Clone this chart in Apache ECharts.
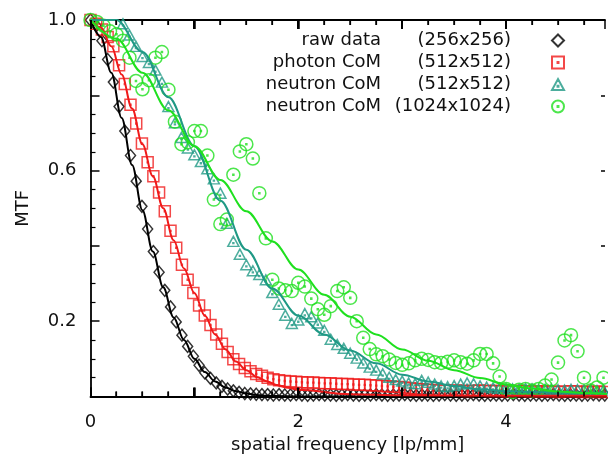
<!DOCTYPE html>
<html>
<head>
<meta charset="utf-8">
<script src="https://cdn.jsdelivr.net/npm/echarts@6/dist/echarts.min.js"></script>
<style>html,body{margin:0;padding:0;background:#fff}#c{width:608px;height:460px}</style>
</head>
<body>
<div id="c"></div>
<script>
// ---- data ----
const legendLabels = ['raw data', 'photon CoM', 'neutron CoM', 'neutron CoM'];
const legendSizes = ['(256x256)', '(512x512)', '(512x512)', '(1024x1024)'];
const xTickLabels = [0, 2, 4];
const yTickLabels = [0.2, 0.6, 1.0];
const xMajorTicks = [0, 1, 2, 3, 4];
const xMinorTicks = [0.25, 0.5, 0.75, 1.25, 1.5, 1.75, 2.25, 2.5, 2.75, 3.25, 3.5, 3.75, 4.25, 4.5, 4.75];
const xMax = 4.952;   // the visible part of the frequency axis ends here

// frequency grid of the 256/512 photon series [lp/mm]
const freqA = [0, 0.055, 0.11, 0.165, 0.22, 0.275, 0.33, 0.385, 0.44, 0.495, 0.55, 0.605, 0.66, 0.715, 0.77, 0.825, 0.88, 0.935, 0.99, 1.045,
  1.1, 1.155, 1.21, 1.265, 1.32, 1.375, 1.43, 1.485, 1.54, 1.595, 1.65, 1.705, 1.76, 1.815, 1.87, 1.925, 1.98, 2.035, 2.09, 2.145,
  2.2, 2.255, 2.31, 2.365, 2.42, 2.475, 2.53, 2.585, 2.64, 2.695, 2.75, 2.805, 2.86, 2.915, 2.97, 3.025, 3.08, 3.135, 3.19, 3.245,
  3.3, 3.355, 3.41, 3.465, 3.52, 3.575, 3.63, 3.685, 3.74, 3.795, 3.85, 3.905, 3.96, 4.015, 4.07, 4.125, 4.18, 4.235, 4.29, 4.345,
  4.4, 4.455, 4.51, 4.565, 4.62, 4.675, 4.73, 4.785, 4.84, 4.895, 4.95];
// frequency grid of the neutron series [lp/mm]
const freqB = [0, 0.0625, 0.125, 0.1875, 0.25, 0.3125, 0.375, 0.4375, 0.5, 0.5625, 0.625, 0.6875, 0.75, 0.8125, 0.875, 0.9375,
  1.0, 1.0625, 1.125, 1.1875, 1.25, 1.3125, 1.375, 1.4375, 1.5, 1.5625, 1.625, 1.6875, 1.75, 1.8125, 1.875, 1.9375,
  2.0, 2.0625, 2.125, 2.1875, 2.25, 2.3125, 2.375, 2.4375, 2.5, 2.5625, 2.625, 2.6875, 2.75, 2.8125, 2.875, 2.9375,
  3.0, 3.0625, 3.125, 3.1875, 3.25, 3.3125, 3.375, 3.4375, 3.5, 3.5625, 3.625, 3.6875, 3.75, 3.8125, 3.875, 3.9375,
  4.0, 4.0625, 4.125, 4.1875, 4.25, 4.3125, 4.375, 4.4375, 4.5, 4.5625, 4.625, 4.6875, 4.75, 4.8125, 4.875, 4.9375, 5.0];
// frequency grids of the fitted curves
const fitXA = [0, 0.1, 0.2, 0.3, 0.4, 0.5, 0.6, 0.7, 0.8, 0.9, 1.0, 1.1, 1.2, 1.3, 1.4, 1.5, 1.6, 1.7, 1.8, 1.9, 2.0, 2.5, 3.0, 4.0, 5.0];
const fitXB = [0, 0.25, 0.5, 0.75, 1.0, 1.25, 1.5, 1.75, 2.0, 2.25, 2.5, 2.75, 3.0, 3.25, 3.5, 3.75, 4.0, 4.25, 4.5, 4.75, 5.0];

const rawMTF = [1.0, 0.985, 0.945, 0.895, 0.835, 0.77, 0.705, 0.64, 0.572, 0.505, 0.445, 0.385, 0.33, 0.282, 0.238, 0.198, 0.163, 0.133, 0.107, 0.083,
  0.063, 0.048, 0.036, 0.027, 0.02, 0.015, 0.011, 0.008, 0.007, 0.006,
  0.005, 0.005, 0.004, 0.005, 0.004, 0.004, 0.005, 0.004, 0.003, 0.004,
  0.005, 0.004, 0.004, 0.003, 0.004, 0.005, 0.004, 0.003, 0.004, 0.004,
  0.005, 0.004, 0.003, 0.004, 0.004, 0.005, 0.004, 0.003, 0.004, 0.004,
  0.003, 0.004, 0.005, 0.004, 0.003, 0.004, 0.004, 0.005, 0.004, 0.003,
  0.004, 0.004, 0.003, 0.004, 0.005, 0.004, 0.003, 0.004, 0.004, 0.003,
  0.004, 0.005, 0.004, 0.003, 0.004, 0.004, 0.003, 0.004, 0.005, 0.004, 0.004];
const photonMTF = [1.0, 0.99, 0.975, 0.955, 0.93, 0.88, 0.83, 0.775, 0.725, 0.672, 0.622, 0.585, 0.542, 0.492, 0.44, 0.395, 0.35, 0.31, 0.275, 0.242,
  0.215, 0.19, 0.165, 0.14, 0.118, 0.099, 0.086, 0.076, 0.067, 0.06, 0.055, 0.05, 0.046, 0.043, 0.041, 0.04, 0.039, 0.038, 0.037, 0.037,
  0.036, 0.035, 0.035, 0.034, 0.033, 0.033, 0.032, 0.031, 0.031, 0.030,
  0.029, 0.028, 0.027, 0.026, 0.025, 0.024, 0.022, 0.020, 0.019, 0.018,
  0.017, 0.016, 0.016, 0.015, 0.016, 0.015, 0.014, 0.015, 0.016, 0.015,
  0.014, 0.015, 0.014, 0.013, 0.014, 0.015, 0.014, 0.013, 0.014, 0.013,
  0.014, 0.013, 0.012, 0.013, 0.014, 0.013, 0.012, 0.013, 0.012, 0.013, 0.012];
const neutron512MTF = [1.02, 1.02, 1.02, 1.015, 1.005, 0.99, 0.96, 0.93, 0.903, 0.887, 0.867, 0.835, 0.77, 0.727, 0.688, 0.66,
  0.642, 0.624, 0.605, 0.578, 0.54, 0.46, 0.412, 0.378, 0.35, 0.334, 0.324, 0.31, 0.276, 0.245, 0.216, 0.194,
  0.203, 0.22, 0.212, 0.195, 0.176, 0.152, 0.138, 0.128, 0.115, 0.102, 0.089, 0.078, 0.07, 0.06, 0.051, 0.045,
  0.041, 0.036, 0.034, 0.043, 0.038, 0.033, 0.028, 0.026, 0.029, 0.033, 0.036, 0.034, 0.028, 0.025, 0.023, 0.022,
  0.021, 0.02, 0.019, 0.021, 0.02, 0.018, 0.019, 0.02, 0.018, 0.017, 0.019, 0.018, 0.017, 0.018, 0.016, 0.017, 0.018];
const neutron1024MTF = [1.0, 0.995, 0.985, 0.97, 0.962, 0.945, 0.9, 0.838, 0.816, 0.84, 0.9, 0.915, 0.815, 0.73, 0.67, 0.675,
  0.705, 0.705, 0.64, 0.523, 0.458, 0.47, 0.589, 0.651, 0.67, 0.632, 0.54, 0.42, 0.31, 0.287, 0.282, 0.28,
  0.302, 0.292, 0.26, 0.232, 0.217, 0.24, 0.28, 0.29, 0.262, 0.2, 0.156, 0.126, 0.112, 0.107, 0.098, 0.089,
  0.084, 0.088, 0.096, 0.1, 0.097, 0.091, 0.089, 0.092, 0.096, 0.091, 0.087, 0.096, 0.113, 0.113, 0.088, 0.053,
  0.02, 0.012, 0.018, 0.02, 0.016, 0.02, 0.029, 0.045, 0.09, 0.149, 0.163, 0.12, 0.05, 0.016, 0.024, 0.05, 0.07];

const rawFit = [1.0, 0.955, 0.86, 0.74, 0.615, 0.495, 0.385, 0.29, 0.21, 0.15, 0.1, 0.065, 0.04, 0.024, 0.014, 0.008, 0.004, 0.002, 0.001, 0.0005, 0, 0, 0, 0, 0];
const photonFit = [1.0, 0.98, 0.93, 0.855, 0.765, 0.67, 0.585, 0.5, 0.415, 0.34, 0.275, 0.215, 0.165, 0.125, 0.093, 0.07, 0.052, 0.04, 0.03, 0.023, 0.018, 0.006, 0.003, 0.002, 0.002];
const neutron512Fit = [1.0, 1.0, 0.915, 0.795, 0.665, 0.52, 0.39, 0.287, 0.215, 0.165, 0.122, 0.088, 0.058, 0.04, 0.028, 0.019, 0.014, 0.012, 0.01, 0.009, 0.008];
const neutron1024Fit = [1.0, 0.95, 0.86, 0.76, 0.665, 0.575, 0.492, 0.412, 0.337, 0.27, 0.212, 0.165, 0.125, 0.095, 0.07, 0.049, 0.032, 0.021, 0.013, 0.009, 0.006];

// ---- styling ----
const colors = ['#000000', '#f01a1a', '#1f9985', '#1fe01f'];
const symbols = [
  'path://M5,0L10,5L5,10L0,5Z',
  'path://M0,0L10,0L10,10L0,10Z M4.6,4.6L5.4,4.6L5.4,5.4L4.6,5.4Z',
  'path://M5,0L10,9L0,9Z M4.6,5.6L5.4,5.6L5.4,6.4L4.6,6.4Z',
  'path://M0,5A5,5 0 1 1 10,5A5,5 0 1 1 0,5Z M4.6,4.6L5.4,4.6L5.4,5.4L4.6,5.4Z'
];
const symbolSizes = [[10, 12], [11, 11], [11, 10], [13, 13]];
const FONT = 'DejaVu Sans';
const MAJOR_LEN = 9, MINOR_LEN = 5;

const pointSets = [[freqA, rawMTF], [freqA, photonMTF], [freqB, neutron512MTF], [freqB, neutron1024MTF]];
const fitSets = [[fitXA, rawFit], [fitXA, photonFit], [fitXB, neutron512Fit], [fitXB, neutron1024Fit]];
const names = legendLabels.map((l, i) => l + ' ' + legendSizes[i]);

const series = [];
pointSets.forEach((ps, i) => {
  series.push({
    name: names[i], type: 'scatter', xAxisIndex: 0, yAxisIndex: 0,
    data: ps[0].map((x, k) => [x, ps[1][k]]),
    symbol: symbols[i], symbolSize: symbolSizes[i],
    itemStyle: { color: 'rgba(255,255,255,0)', borderColor: colors[i], borderWidth: 1.5 },
    emphasis: { disabled: true }
  });
  const fs = fitSets[i];
  series.push({
    name: names[i] + ' fit', type: 'line', xAxisIndex: 0, yAxisIndex: 0,
    data: fs[0].map((x, k) => [x, fs[1][k]]),
    showSymbol: false, smooth: 0.35, smoothMonotone: 'x',
    lineStyle: { color: colors[i], width: 2 }, itemStyle: { color: colors[i] },
    emphasis: { disabled: true }
  });
});

// x-axis tick marks on the bottom and top frame, placed through the x scale
series.push({
  name: 'x ticks', type: 'custom', xAxisIndex: 0, yAxisIndex: 0, silent: true, clip: false, z: 20,
  data: xMajorTicks.map(v => [v, 0, MAJOR_LEN]).concat(xMinorTicks.map(v => [v, 0, MINOR_LEN])),
  renderItem: (params, api) => {
    const v = api.value(0), len = api.value(2);
    const b = api.coord([v, 0]), t = api.coord([v, 1]);
    const x = Math.round(b[0]);
    const w = len > 6 ? 2 : 1.5;
    return { type: 'group', children: [
      { type: 'rect', shape: { x: x - w / 2, y: b[1] - len, width: w, height: len }, style: { fill: '#000' } },
      { type: 'rect', shape: { x: x - w / 2, y: t[1], width: w, height: len }, style: { fill: '#000' } }
    ] };
  }
});

const near = (v, arr) => arr.some(a => Math.abs(a - v) < 1e-6);
const mkLine = (show) => ({ show: show, onZero: false, lineStyle: { color: '#000', width: 1.8 } });
const mkTick = (len) => ({ show: true, inside: true, length: len, lineStyle: { color: '#000', width: 1.5 } });
const mkMinor = (show) => ({ show: show, splitNumber: 4, length: MINOR_LEN, lineStyle: { color: '#000', width: 1.2 } });

const option = {
  animation: false,
  backgroundColor: '#fff',
  grid: { left: 90.5, right: 0, top: 20, bottom: 63.5 },
  legend: {
    data: names, orient: 'vertical', right: 38, top: 26, align: 'right',
    itemWidth: 12, itemHeight: 12, itemGap: 3, selectedMode: false,
    formatter: n => { const i = names.indexOf(n); return '{a|' + legendLabels[i] + '}{b|' + legendSizes[i] + '}'; },
    textStyle: {
      fontFamily: FONT, fontSize: 18, color: '#111', lineHeight: 19,
      rich: {
        a: { width: 140, align: 'right', fontFamily: FONT, fontSize: 18, lineHeight: 19, color: '#111' },
        b: { width: 130, align: 'right', fontFamily: FONT, fontSize: 18, lineHeight: 19, color: '#111', padding: [0, 36, 0, 0] }
      }
    }
  },
  xAxis: [
    { type: 'value', position: 'bottom', min: 0, max: xMax, interval: 1,
      axisLine: mkLine(true), axisTick: mkTick(MAJOR_LEN), minorTick: mkMinor(true),
      axisLabel: { show: true, margin: 17, fontFamily: FONT, fontSize: 18, color: '#111', formatter: v => near(v, xTickLabels) ? String(v) : '' },
      splitLine: { show: false },
      name: 'spatial frequency [lp/mm]', nameLocation: 'middle', nameGap: 35,
      nameTextStyle: { fontFamily: FONT, fontSize: 18, color: '#111' } },
    { type: 'value', position: 'top', min: 0, max: xMax, interval: 1,
      axisLine: mkLine(true), axisTick: mkTick(MAJOR_LEN), minorTick: mkMinor(true),
      axisLabel: { show: false }, splitLine: { show: false } }
  ],
  yAxis: [
    { type: 'value', position: 'left', min: 0, max: 1, interval: 0.2,
      axisLine: mkLine(true), axisTick: mkTick(MAJOR_LEN), minorTick: mkMinor(true),
      axisLabel: { margin: 14, fontFamily: FONT, fontSize: 18, color: '#111', formatter: v => near(v, yTickLabels) ? v.toFixed(1) : '' },
      splitLine: { show: false },
      name: 'MTF', nameLocation: 'middle', nameGap: 58,
      nameTextStyle: { fontFamily: FONT, fontSize: 18, color: '#111' } },
    { type: 'value', position: 'right', min: 0, max: 1, interval: 0.2,
      axisLine: mkLine(false), axisTick: mkTick(4), minorTick: mkMinor(false),
      axisLabel: { show: false }, splitLine: { show: false } }
  ],
  series: series
};

const chart = echarts.init(document.getElementById('c'));
chart.setOption(option);
</script>
</body>
</html>
